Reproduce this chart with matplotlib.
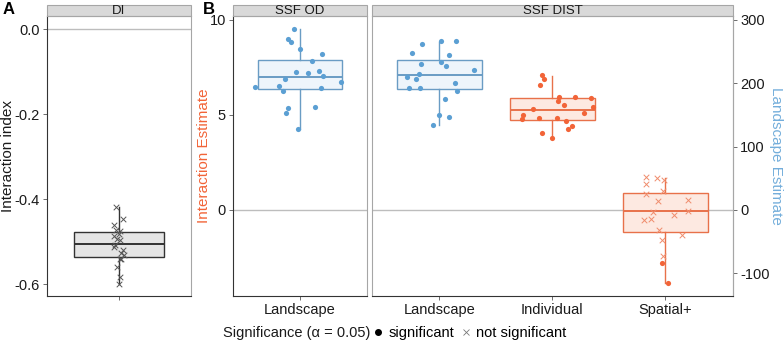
import numpy as np
import matplotlib
matplotlib.use('Agg')
import matplotlib.pyplot as plt
from matplotlib.lines import Line2D
from matplotlib.patches import Rectangle

plt.rcParams['font.family'] = ['Liberation Sans', 'DejaVu Sans']
plt.rcParams['axes.unicode_minus'] = False

# =============================================================================
# Data
# =============================================================================

# panel A - DI interaction index (all not significant)
di_vals = [-0.418, -0.446, -0.461, -0.472, -0.476, -0.481, -0.487, -0.493,
           -0.497, -0.507, -0.512, -0.519, -0.527, -0.532, -0.540, -0.542,
           -0.560, -0.583, -0.599]
di_jit = [-0.022, 0.033, -0.039, -0.022, 0.006, 0.0, -0.039, -0.017, 0.006,
          -0.033, -0.039, 0.033, 0.019, 0.044, 0.006, 0.019, -0.014, 0.011,
          0.003]
di_box = [-0.536, -0.505, -0.478, -0.599, -0.419]  # q1, med, q3, lo, hi

# panel B - SSF OD, Landscape (interaction estimate scale)
od_vals = [9.53, 9.0, 8.86, 8.46, 8.19, 7.82, 7.33, 7.26, 7.19, 7.05, 6.89,
           6.74, 6.49, 6.53, 6.26, 6.42, 5.40, 5.35, 5.11, 4.26]
od_jit = [-0.057, -0.104, -0.083, 0.0, 0.199, 0.104, 0.167, -0.036, 0.074,
          0.208, -0.134, 0.366, -0.405, -0.185, -0.155, 0.190, 0.137, -0.104,
          -0.125, -0.018]
od_box = [6.37, 6.98, 7.91, 4.26, 9.51]

# panel B - SSF DIST
land_vals = [8.91, 8.88, 8.74, 8.26, 8.14, 7.67, 7.77, 7.58, 7.37, 7.18, 7.0,
             6.91, 6.68, 6.42, 6.42, 6.28, 5.82, 5.0, 4.91, 4.47]
land_jit = [0.150, 0.018, -0.153, -0.242, 0.083, -0.162, 0.015, 0.059, 0.307,
            -0.183, -0.286, -0.206, 0.136, -0.268, -0.174, 0.159, 0.050,
            -0.006, 0.086, -0.059]
land_box = [6.37, 7.09, 7.88, 4.47, 8.85]

indiv_vals = [7.09, 6.89, 6.56, 5.93, 5.93, 5.91, 5.74, 5.54, 5.42, 5.33,
              5.12, 4.98, 4.77, 4.86, 4.83, 4.68, 4.44, 4.28, 4.04, 3.79]
indiv_jit = [-0.088, -0.074, -0.112, 0.062, 0.204, 0.339, 0.050, 0.100,
             0.357, -0.168, 0.277, -0.260, -0.265, -0.121, 0.044, 0.124,
             0.171, 0.136, -0.088, -0.006]
indiv_box = [4.75, 5.25, 5.91, 3.79, 7.07]

spat_vals = [1.75, 1.67, 1.58, 1.35, 1.0, 0.82, 0.47, 0.53, -0.09, -0.05,
             -0.25, -0.54, -0.46, -1.07, -1.33, -1.58, -2.40, -2.79, -3.86]
spat_jit = [-0.171, -0.077, -0.015, -0.171, -0.024, -0.171, -0.062, 0.198,
            -0.112, 0.198, 0.074, -0.189, -0.127, -0.059, 0.150, -0.029,
            -0.018, -0.032, 0.021]
spat_sig = [False] * 17 + [True, True]
spat_box = [-1.18, -0.07, 0.88, -3.86, 1.70]

dist_cats = ['Landscape', 'Individual', 'Spatial+']
land_scale = 30  # Landscape Estimate = Interaction Estimate * 30

blue, blue_edge, blue_fill = '#5b9fd3', '#6a9cc4', '#eef5fb'
orange, orange_edge, orange_fill = '#f26438', '#e8714a', '#fde9e1'
orange_x = '#f08c6c'

# =============================================================================
# Helpers
# =============================================================================


def stats(b):
    return {'q1': b[0], 'med': b[1], 'q3': b[2], 'whislo': b[3],
            'whishi': b[4], 'fliers': []}


def draw_box(ax, pos, b, edge, fill):
    ax.bxp([stats(b)], positions=[pos], widths=0.75, showfliers=False,
           showcaps=False, patch_artist=True,
           boxprops=dict(facecolor=fill, edgecolor=edge, lw=1.0),
           medianprops=dict(color=edge, lw=1.4),
           whiskerprops=dict(color=edge, lw=1.0), zorder=2)


def draw_pts(ax, pos, vals, jit, sig, col, xcol):
    x = pos + np.array(jit)
    v = np.array(vals)
    s = np.array(sig)
    ax.scatter(x[s], v[s], s=14, color=col, lw=0, zorder=3)
    ax.scatter(x[~s], v[~s], s=16, marker='x', color=xcol, lw=0.7, zorder=3)


def style(ax, strip, left_dark=True):
    ax.axhline(0, color='#bdbdbd', lw=1, zorder=1)
    for sp in ['top', 'right']:
        ax.spines[sp].set_color('#a6a6a6')
    ax.spines['left'].set_color('#333333' if left_dark else '#a6a6a6')
    ax.spines['bottom'].set_color('#333333')
    for sp in ax.spines.values():
        sp.set_linewidth(0.8)
    ax.tick_params(length=3, width=0.6, color='#555555', labelsize=10.5,
                   labelcolor='#1a1a1a', pad=2)
    h = 11 / 280
    ax.add_patch(Rectangle((0, 1), 1, h, transform=ax.transAxes,
                           facecolor='#d9d9d9', edgecolor='#a6a6a6', lw=0.8,
                           clip_on=False))
    ax.text(0.5, 1 + h / 2, strip, transform=ax.transAxes, ha='center',
            va='center', fontsize=9.5, color='#1a1a1a')


fig = plt.figure(figsize=(7.84, 3.41), dpi=100)
bot, hgt = 45 / 341, 280 / 341
ymid = 1 - 156 / 341

# =============================================================================
# Panel A
# =============================================================================
axA = fig.add_axes([47 / 784, bot, 144 / 784, hgt])
draw_box(axA, 1, di_box, '#333333', '#e5e5e5')
draw_pts(axA, 1, di_vals, di_jit, [False] * len(di_vals), '#555555',
         '#555555')
axA.set_xlim(0.4, 1.6)
axA.set_ylim(-0.628, 0.031)
axA.set_xticks([1])
axA.set_xticklabels([''])
axA.set_yticks([0.0, -0.2, -0.4, -0.6])
axA.set_yticklabels(['0.0', '-0.2', '-0.4', '-0.6'])
style(axA, 'DI')
fig.text(8 / 784, ymid, 'Interaction index', rotation=90, fontsize=11,
         color='#1a1a1a', ha='center', va='center')

# =============================================================================
# Panel B - SSF OD
# =============================================================================
ylimB = (-4.53, 10.21)
axO = fig.add_axes([233 / 784, bot, 134 / 784, hgt])
draw_box(axO, 1, od_box, blue_edge, blue_fill)
draw_pts(axO, 1, od_vals, od_jit, [True] * len(od_vals), blue, blue)
axO.set_xlim(0.4, 1.6)
axO.set_ylim(*ylimB)
axO.set_xticks([1])
axO.set_xticklabels(['Landscape'])
axO.set_yticks([10, 5, 0])
style(axO, 'SSF OD')
fig.text(204 / 784, ymid, 'Interaction Estimate', rotation=90, fontsize=11,
         color=orange, ha='center', va='center')

# =============================================================================
# Panel B - SSF DIST
# =============================================================================
axD = fig.add_axes([371.5 / 784, bot, 361.8 / 784, hgt])
draw_box(axD, 1, land_box, blue_edge, blue_fill)
draw_pts(axD, 1, land_vals, land_jit, [True] * len(land_vals), blue, blue)
draw_box(axD, 2, indiv_box, orange_edge, orange_fill)
draw_pts(axD, 2, indiv_vals, indiv_jit, [True] * len(indiv_vals), orange,
         orange)
draw_box(axD, 3, spat_box, orange_edge, orange_fill)
draw_pts(axD, 3, spat_vals, spat_jit, spat_sig, orange, orange_x)
axD.set_xlim(0.4, 3.6)
axD.set_ylim(*ylimB)
axD.set_xticks([1, 2, 3])
axD.set_xticklabels(dist_cats)
style(axD, 'SSF DIST', left_dark=False)
axD.tick_params(axis='y', left=False, labelleft=False)

sec = axD.secondary_yaxis('right', functions=(lambda y: y * land_scale,
                                              lambda y: y / land_scale))
sec.set_yticks([300, 200, 100, 0, -100])
sec.spines['right'].set_color('#a6a6a6')
sec.tick_params(length=3, width=0.6, color='#555555', labelsize=10.5,
                labelcolor='#1a1a1a', pad=2)
fig.text(776 / 784, ymid, 'Landscape Estimate', rotation=270, fontsize=11,
         color='#74aedb', ha='center', va='center')

# panel letters
fig.text(3 / 784, 1 - 9 / 341, 'A', fontsize=12, fontweight='bold',
         va='center')
fig.text(203 / 784, 1 - 9 / 341, 'B', fontsize=12, fontweight='bold',
         va='center')

# legend
fig.text(223 / 784, 8 / 341, 'Significance (\u03b1 = 0.05)', fontsize=10.5,
         va='center', color='#1a1a1a')
handles = [Line2D([], [], ls='', marker='o', ms=4, color='black'),
           Line2D([], [], ls='', marker='x', ms=4.5, mew=0.6, color='#777777')]
fig.legend(handles, ['significant', 'not significant'], ncol=2,
           loc='center left', bbox_to_anchor=(374 / 784, 8 / 341),
           frameon=False, fontsize=10.5, handlelength=0.6,
           handletextpad=0.4, columnspacing=0.5, borderpad=0,
           borderaxespad=0)

plt.savefig('out.png', dpi=100)
